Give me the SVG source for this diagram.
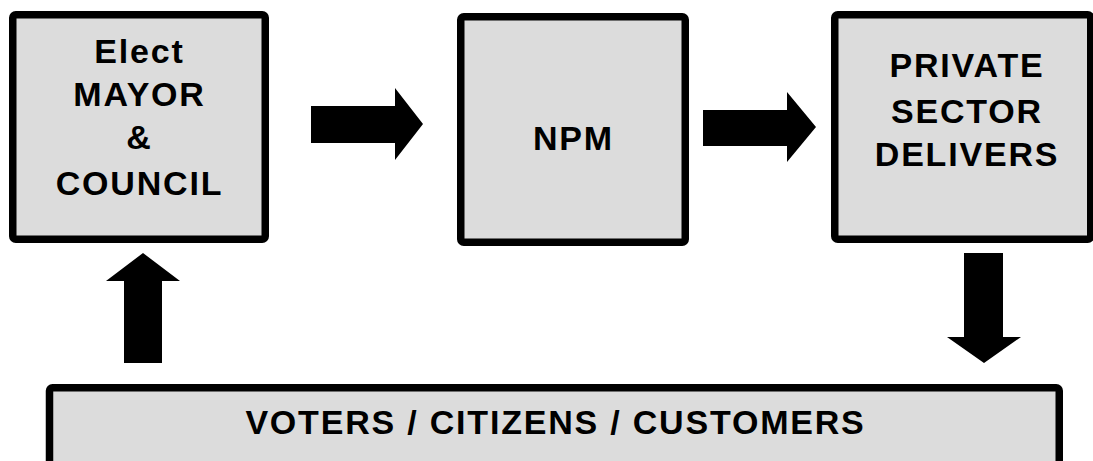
<svg xmlns="http://www.w3.org/2000/svg" width="1093" height="461" viewBox="0 0 1093 461">
<style>
.box{fill:#dcdcdc;stroke:#000;stroke-width:7.5;stroke-linejoin:round}
.t{font-family:"Liberation Sans",Arial,sans-serif;font-weight:bold;font-size:34px;letter-spacing:1.8px;text-anchor:middle;fill:#000}
.arr{fill:#000}
</style>
<rect width="1093" height="461" fill="#fff"/>
<g id="connectors">
<polygon class="arr" points="311,106 395,106 395,88 423,124 395,160 395,143 311,143"/>
<polygon class="arr" points="703,110 787,110 787,92 816,127 787,162 787,146 703,146"/>
<polygon class="arr" points="124,363 124,281 106,281 143,253 180,281 162,281 162,363"/>
<polygon class="arr" points="964,253 1003,253 1003,337 1021,337 984,363 947,337 964,337"/>
</g>
<g id="node-mayor">
<rect class="box" x="12.75" y="14.75" width="252.5" height="224.5" rx="3"/>
<text class="t" x="139.5" y="63">Elect</text>
<text class="t" x="139.5" y="106">MAYOR</text>
<text class="t" x="139.5" y="149">&amp;</text>
<text class="t" x="139.5" y="195">COUNCIL</text>
</g>
<g id="node-npm">
<rect class="box" x="460.75" y="16.75" width="224.5" height="225.5" rx="3"/>
<text class="t" x="573.5" y="150">NPM</text>
</g>
<g id="node-private">
<rect class="box" x="834.75" y="14.75" width="256" height="224.5" rx="3"/>
<text class="t" x="967" y="77">PRIVATE</text>
<text class="t" x="967" y="123">SECTOR</text>
<text class="t" x="967" y="166">DELIVERS</text>
</g>
<g id="node-voters">
<rect class="box" x="49.5" y="387.75" width="1009.75" height="90" rx="3"/>
<text class="t" x="555.5" y="434">VOTERS / CITIZENS / CUSTOMERS</text>
</g>
</svg>
